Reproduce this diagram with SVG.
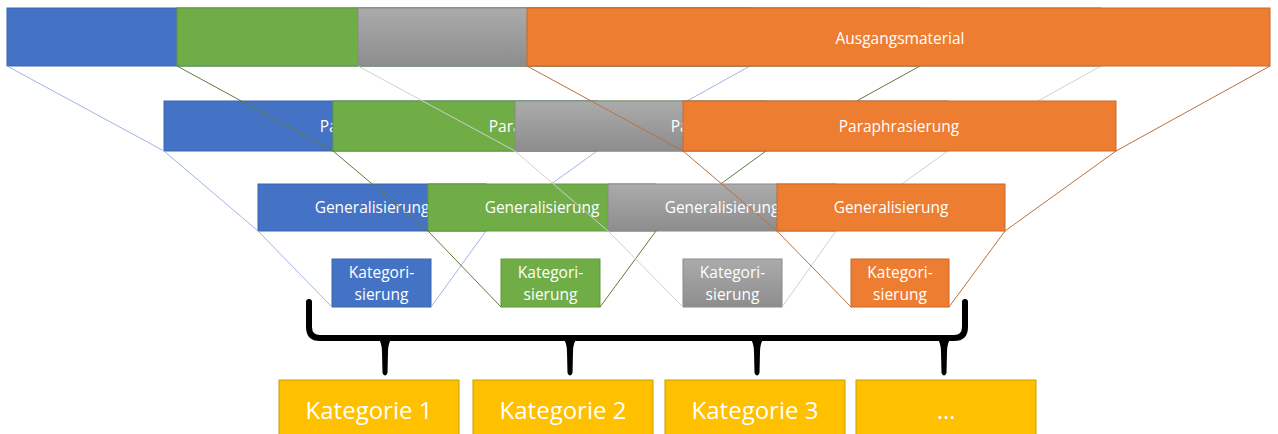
<svg xmlns="http://www.w3.org/2000/svg" width="1278" height="434" viewBox="0 0 1278 434">
<defs>
<linearGradient id="gg" x1="0" y1="0" x2="0" y2="1">
<stop offset="0" stop-color="#ababab"/>
<stop offset="1" stop-color="#8d8d8d"/>
</linearGradient>
<style>
.b{fill:#4472C4;stroke:#3a64b0;stroke-width:1}
.g{fill:#70AD47;stroke:#5f9a3a;stroke-width:1}
.y{fill:url(#gg);stroke:#8a8a8a;stroke-width:1}
.o{fill:#ED7D31;stroke:#c9682a;stroke-width:1}
.k{fill:#FFC000;stroke:#c9a000;stroke-width:1}
.t{font-family:"Open Sans","Liberation Sans",sans-serif;font-size:15.5px;fill:#ffffff;text-anchor:middle}
.tk{font-family:"Open Sans","Liberation Sans",sans-serif;font-size:24px;fill:#ffffff;text-anchor:middle}
.lb{fill:none;stroke:#9fb6e0;stroke-width:1}
.lg{fill:none;stroke:#5b7d3c;stroke-width:1}
.ly{fill:none;stroke:#cfcfcf;stroke-width:1}
.lo{fill:none;stroke:#b9713f;stroke-width:1}
.br{fill:none;stroke:#000;stroke-width:6;stroke-linecap:round}
</style>
</defs>
<rect width="1278" height="434" fill="#ffffff"/>

<!-- blue layer -->
<g id="layer-blue">
<g id="blue-1"><rect class="b" x="7" y="8" width="743" height="58"/></g>
<g id="blue-2"><rect class="b" x="164" y="101" width="433" height="50"/><text class="t" x="380" y="132">Paraphrasierung</text></g>
<g id="blue-3"><rect class="b" x="258" y="184" width="228" height="47"/><text class="t" x="372" y="213">Generalisierung</text></g>
<g id="blue-4"><rect class="b" x="332" y="259" width="99" height="48"/><text class="t" x="381.5" y="278">Kategori-</text><text class="t" x="381.5" y="300">sierung</text></g>
<g id="connectors-blue">
<polyline class="lb" points="7,66 164,151 258,231 332,307"/>
<polyline class="lb" points="750,66 597,151 486,231 431,307"/>
</g>
</g>

<!-- green layer -->
<g id="layer-green">
<g id="green-1"><rect class="g" x="177" y="8" width="743" height="58"/></g>
<g id="green-2"><rect class="g" x="333" y="101" width="433" height="50"/><text class="t" x="549" y="132">Paraphrasierung</text></g>
<g id="green-3"><rect class="g" x="428" y="184" width="228" height="47"/><text class="t" x="542" y="213">Generalisierung</text></g>
<g id="green-4"><rect class="g" x="501" y="259" width="99" height="48"/><text class="t" x="550.5" y="278">Kategori-</text><text class="t" x="550.5" y="300">sierung</text></g>
<g id="connectors-green">
<polyline class="lg" points="177,66 333,151 428,231 501,307"/>
<polyline class="lg" points="920,66 766,151 656,231 600,307"/>
</g>
</g>

<!-- gray layer -->
<g id="layer-gray">
<g id="gray-1"><rect class="y" x="358" y="8" width="743" height="58"/></g>
<g id="gray-2"><rect class="y" x="515" y="101" width="433" height="50"/><text class="t" x="731" y="132">Paraphrasierung</text></g>
<g id="gray-3"><rect class="y" x="608" y="184" width="228" height="47"/><text class="t" x="722" y="213">Generalisierung</text></g>
<g id="gray-4"><rect class="y" x="683" y="259" width="99" height="48"/><text class="t" x="732.5" y="278">Kategori-</text><text class="t" x="732.5" y="300">sierung</text></g>
<g id="connectors-gray">
<polyline class="ly" points="358,66 515,151 608,231 683,307"/>
<polyline class="ly" points="1101,66 948,151 836,231 782,307"/>
</g>
</g>

<!-- orange layer -->
<g id="layer-orange">
<g id="orange-1"><rect class="o" x="527" y="8" width="743" height="58"/><text class="t" x="900" y="44">Ausgangsmaterial</text></g>
<g id="orange-2"><rect class="o" x="683" y="101" width="433" height="50"/><text class="t" x="899" y="132">Paraphrasierung</text></g>
<g id="orange-3"><rect class="o" x="777" y="184" width="228" height="47"/><text class="t" x="891" y="213">Generalisierung</text></g>
<g id="orange-4"><rect class="o" x="851" y="259" width="98" height="48"/><text class="t" x="900" y="278">Kategori-</text><text class="t" x="900" y="300">sierung</text></g>
<g id="connectors-orange">
<polyline class="lo" points="527,66 683,151 777,231 851,307"/>
<polyline class="lo" points="1270,66 1116,151 1005,231 949,307"/>
</g>
</g>

<!-- bracket -->
<g id="bracket">
<path class="br" d="M309,302 L309,327 Q309,338 320,338 L954,338 Q965,338 965,327 L965,302"/>
<path d="M378,338 Q382,343 382,352 L382.5,373 Q385,378 387.5,373 L388,352 Q388,343 392,338 Z" fill="#000"/>
<path d="M563,338 Q567,343 567,352 L567.5,373 Q570,378 572.5,373 L573,352 Q573,343 577,338 Z" fill="#000"/>
<path d="M750,338 Q754,343 754,352 L754.5,373 Q757,378 759.5,373 L760,352 Q760,343 764,338 Z" fill="#000"/>
<path d="M937,338 Q941,343 941,352 L941.5,373 Q944,378 946.5,373 L947,352 Q947,343 951,338 Z" fill="#000"/>
</g>

<g id="kat-1"><rect class="k" x="279" y="380" width="180" height="56"/><text class="tk" x="369" y="419">Kategorie 1</text></g>
<g id="kat-2"><rect class="k" x="473" y="380" width="180" height="56"/><text class="tk" x="563" y="419">Kategorie 2</text></g>
<g id="kat-3"><rect class="k" x="665" y="380" width="180" height="56"/><text class="tk" x="755" y="419">Kategorie 3</text></g>
<g id="kat-4"><rect class="k" x="856" y="380" width="180" height="56"/><text class="tk" x="946" y="419">…</text></g>
</svg>
